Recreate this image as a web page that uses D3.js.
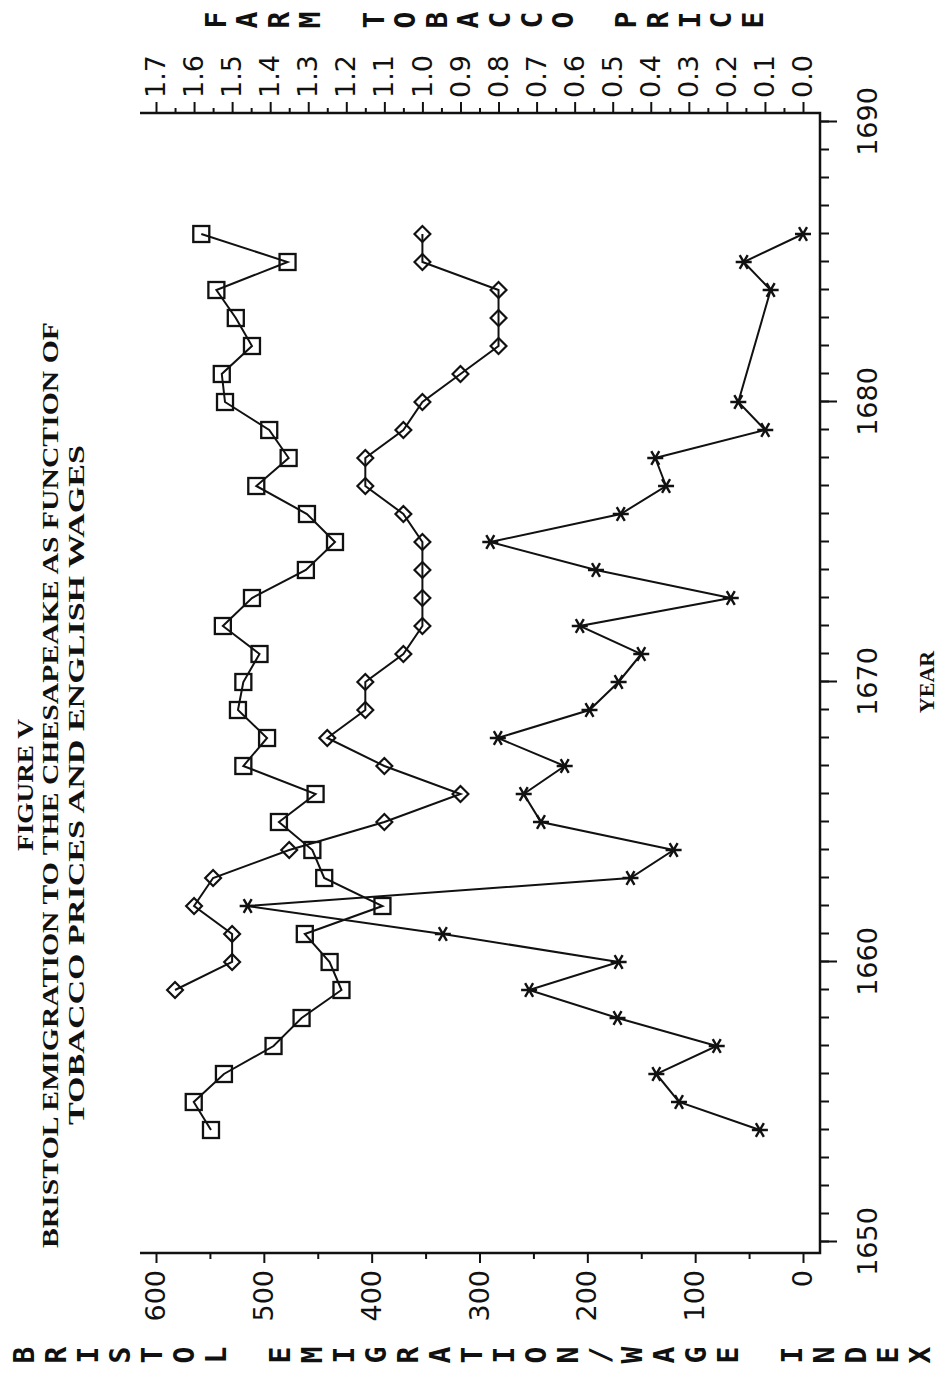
<!DOCTYPE html>
<html>
<head>
<meta charset="utf-8">
<script src="https://cdn.jsdelivr.net/npm/d3@7"></script>
<style>
  html, body { margin: 0; padding: 0; background: #fff; }
  svg { display: block; }
</style>
</head>
<body>
<div id="chart"></div>
<script>
// ---------------- DATA ----------------
const titleLines = [
  "FIGURE V",
  "BRISTOL EMIGRATION TO THE CHESAPEAKE AS FUNCTION OF",
  "TOBACCO PRICES AND ENGLISH WAGES"
];
const leftAxisTitle = "BRISTOL EMIGRATION/WAGE INDEX";
const rightAxisTitle = "FARM TOBACCO PRICE";
const xAxisTitle = "YEAR";

const yearTicks = [1650, 1660, 1670, 1680, 1690];
const leftTicks = [0, 100, 200, 300, 400, 500, 600];
const rightTicks = [0.0, 0.1, 0.2, 0.3, 0.4, 0.5, 0.6, 0.7, 0.8, 0.9, 1.0, 1.1, 1.2, 1.3, 1.4, 1.5, 1.6, 1.7];

// Bristol emigration (stars), left axis
const emigYears = [1654,1655,1656,1657,1658,1659,1660,1661,1662,1663,1664,1665,1666,1667,1668,1669,1670,1671,1672,1673,1674,1675,1676,1677,1678,1679,1680,1684,1685,1686];
const emigValues = [40,115,136,80,172,254,171,334,515,160,120,243,259,221,283,198,171,150,207,67,192,290,169,127,137,35,60,30,55,0];

// English wage index (squares), left axis
const wageYears = [1654,1655,1656,1657,1658,1659,1660,1661,1662,1663,1664,1665,1666,1667,1668,1669,1670,1671,1672,1673,1674,1675,1676,1677,1678,1679,1680,1681,1682,1683,1684,1685,1686];
const wageValues = [549,565,537,491,465,428,439,462,390,444,455,486,452,519,497,524,519,504,538,511,461,434,460,507,477,495,536,539,511,526,544,478,558];

// Farm tobacco price (diamonds), right axis
const tobYears = [1659,1660,1661,1662,1663,1664,1665,1666,1667,1668,1669,1670,1671,1672,1673,1674,1675,1676,1677,1678,1679,1680,1681,1682,1683,1684,1685,1686];
const tobValues = [1.65,1.5,1.5,1.6,1.55,1.35,1.1,0.9,1.1,1.25,1.15,1.15,1.05,1.0,1.0,1.0,1.0,1.05,1.15,1.15,1.05,1.0,0.9,0.8,0.8,0.8,1.0,1.0];

// ---------------- LAYOUT ----------------
const W = 938, H = 1381;
const svg = d3.select("#chart").append("svg")
  .attr("width", W).attr("height", H)
  .style("background", "#fff");

// whole chart is drawn upright in an inner frame and rotated -90deg
const g = svg.append("g").attr("transform", `translate(0,${H}) rotate(-90)`);

const frame = { x0: 128, x1: 1268, y0: 140, y1: 820 };

const x = d3.scaleLinear().domain([1650, 1690]).range([139, 1259]);
const yL = d3.scaleLinear().domain([0, 600]).range([803, 156]);
const yR = d3.scaleLinear().domain([0, 1.7]).range([803, 156]);

const ink = "#111";
const tickFont = "'DejaVu Sans', sans-serif";

// ---------- axes ----------
// year axis (bottom in inner frame)
g.append("g").attr("transform", `translate(0,${frame.y1})`)
  .call(d3.axisBottom(x).tickValues(d3.range(1650, 1691, 1)).tickSize(9).tickFormat(""))
  .call(a => a.select(".domain").remove());
g.append("g").attr("transform", `translate(0,${frame.y1})`)
  .call(d3.axisBottom(x).tickValues(yearTicks).tickSize(17).tickPadding(21).tickFormat(d3.format("d")))
  .call(a => a.select(".domain").remove())
  .call(a => a.selectAll("text").attr("font-size", 27).attr("font-family", tickFont).attr("fill", ink));

// left axis (emigration / wage index)
g.append("g").attr("transform", `translate(${frame.x0},0)`)
  .call(d3.axisLeft(yL).tickValues(d3.range(50, 600, 100)).tickSize(6).tickFormat(""))
  .call(a => a.select(".domain").remove());
g.append("g").attr("transform", `translate(${frame.x0},0)`)
  .call(d3.axisLeft(yL).tickValues(leftTicks).tickSize(10).tickPadding(7).tickFormat(d3.format("d")))
  .call(a => a.select(".domain").remove())
  .call(a => a.selectAll("text").attr("font-size", 27).attr("font-family", tickFont).attr("fill", ink));

// right axis (tobacco price)
g.append("g").attr("transform", `translate(${frame.x1},0)`)
  .call(d3.axisRight(yR).tickValues(d3.range(0.05, 1.7, 0.1)).tickSize(5).tickFormat(""))
  .call(a => a.select(".domain").remove());
g.append("g").attr("transform", `translate(${frame.x1},0)`)
  .call(d3.axisRight(yR).tickValues(rightTicks).tickSize(11).tickPadding(4).tickFormat(d3.format(".1f")))
  .call(a => a.select(".domain").remove())
  .call(a => a.selectAll("text").attr("font-size", 27).attr("font-family", tickFont).attr("fill", ink));

g.selectAll(".tick line").attr("stroke", ink).attr("stroke-width", 2);

// frame lines (three sides)
const framePath = d3.path();
framePath.moveTo(frame.x0, frame.y0);
framePath.lineTo(frame.x0, frame.y1);
framePath.lineTo(frame.x1, frame.y1);
framePath.lineTo(frame.x1, frame.y0);
g.append("path").attr("d", framePath.toString())
  .attr("fill", "none").attr("stroke", ink).attr("stroke-width", 2.5);

// ---------- series ----------
function series(years, values, yScale) {
  return years.map((yr, i) => ({ x: x(yr), y: yScale(values[i]) }));
}
const line = d3.line().x(d => d.x).y(d => d.y);

const sEmig = series(emigYears, emigValues, yL);
const sWage = series(wageYears, wageValues, yL);
const sTob = series(tobYears, tobValues, yR);

[sWage, sTob, sEmig].forEach(s => {
  g.append("path").attr("d", line(s))
    .attr("fill", "none").attr("stroke", ink).attr("stroke-width", 2);
});

// squares
g.append("g").selectAll("rect").data(sWage).join("rect")
  .attr("x", d => d.x - 8).attr("y", d => d.y - 8)
  .attr("width", 16).attr("height", 16)
  .attr("fill", "none").attr("stroke", ink).attr("stroke-width", 2.3);

// diamonds
const diamond = d3.symbol().type(d3.symbolDiamond2).size(160);
g.append("g").selectAll("path").data(sTob).join("path")
  .attr("transform", d => `translate(${d.x},${d.y})`)
  .attr("d", diamond)
  .attr("fill", "none").attr("stroke", ink).attr("stroke-width", 2.2);

// stars (asterisks)
const starR = 8;
const starPath = (() => {
  const p = d3.path();
  [90, 30, 150].forEach(a => {
    const r = a * Math.PI / 180;
    p.moveTo(-starR * Math.cos(r), -starR * Math.sin(r));
    p.lineTo(starR * Math.cos(r), starR * Math.sin(r));
  });
  return p.toString();
})();
g.append("g").selectAll("path").data(sEmig).join("path")
  .attr("transform", d => `translate(${d.x},${d.y})`)
  .attr("d", starPath)
  .attr("fill", "none").attr("stroke", ink).attr("stroke-width", 2.4);

// ---------- titles ----------
const serif = "'Liberation Serif', 'DejaVu Serif', serif";
const titleCenter = 596;
const titleBase = [33, 58, 84];
const titleLen = [132, 926, 680];
titleLines.forEach((t, i) => {
  g.append("text").attr("x", titleCenter).attr("y", titleBase[i])
    .attr("text-anchor", "middle")
    .attr("font-family", serif).attr("font-weight", "bold")
    .attr("font-size", 24).attr("fill", ink)
    .attr("textLength", titleLen[i]).attr("lengthAdjust", "spacingAndGlyphs")
    .text(t);
});

// x-axis title
g.append("text").attr("x", x(1670)).attr("y", 934)
  .attr("text-anchor", "middle")
  .attr("font-family", serif).attr("font-weight", "bold")
  .attr("font-size", 22).attr("fill", ink)
  .text(xAxisTitle);

// stacked axis titles (letters stacked vertically, upright in inner frame)
const mono = "'DejaVu Sans Mono', 'Liberation Mono', monospace";
function stacked(str, xPos, yStart, pitch) {
  const chars = str.split("");
  g.append("g").selectAll("text").data(chars).join("text")
    .attr("x", xPos)
    .attr("y", (c, i) => yStart + i * pitch)
    .attr("text-anchor", "middle")
    .attr("dominant-baseline", "central")
    .attr("font-family", mono).attr("font-weight", "bold")
    .attr("font-size", 28).attr("fill", ink)
    .text(c => c);
}
stacked(leftAxisTitle, 26, 24, 32);
stacked(rightAxisTitle, 1361, 216, 31.6);
</script>
</body>
</html>
